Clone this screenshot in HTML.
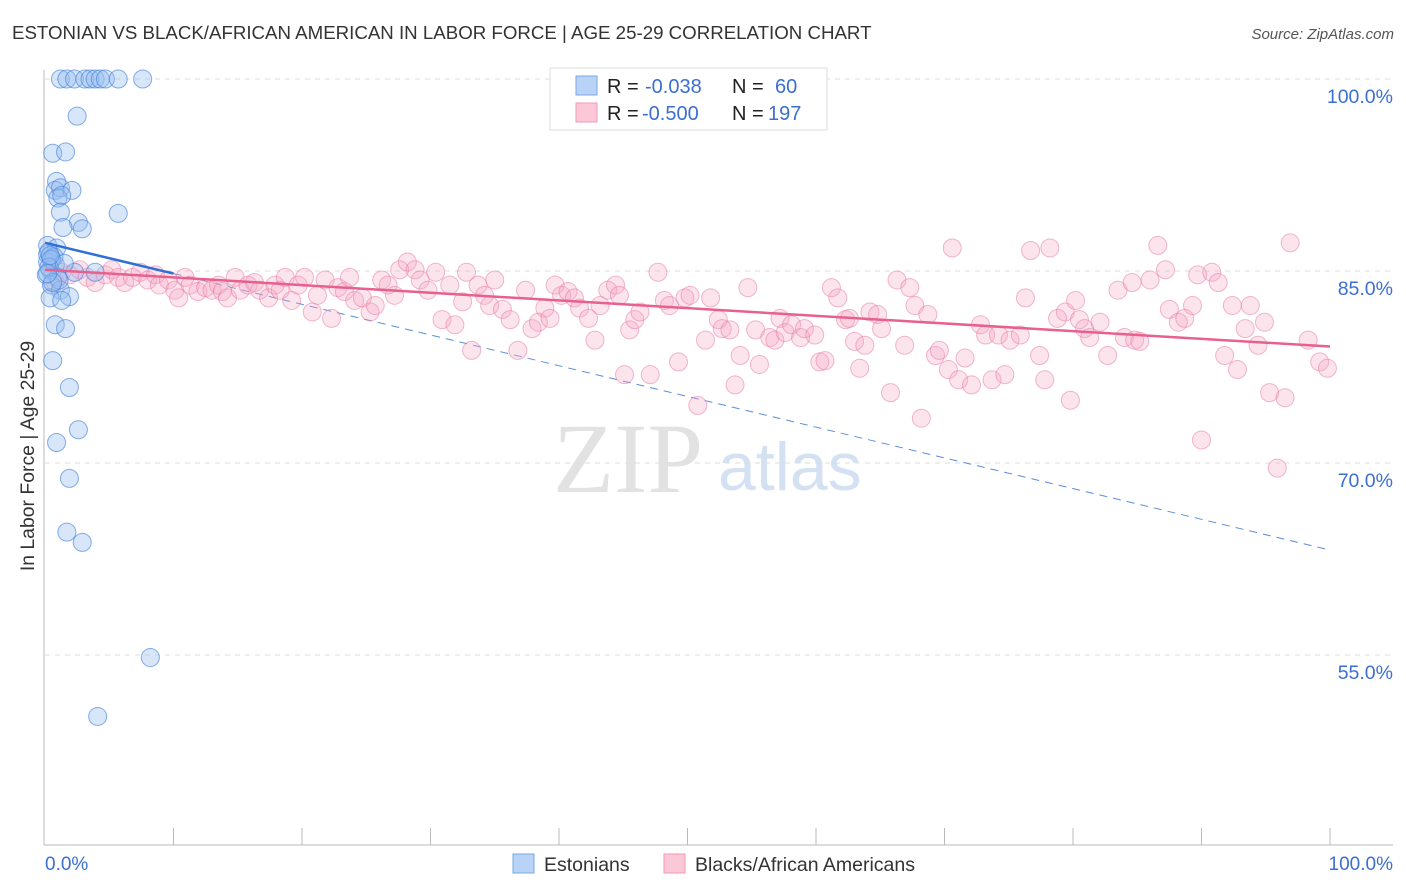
<!DOCTYPE html>
<html><head><meta charset="utf-8">
<style>
body{margin:0;background:#fff;font-family:"Liberation Sans",sans-serif;}
svg{display:block}
</style></head>
<body>
<svg id="chart" width="1406" height="892" xmlns="http://www.w3.org/2000/svg">
<text x="12" y="39" font-size="18.7" fill="#333">ESTONIAN VS BLACK/AFRICAN AMERICAN IN LABOR FORCE | AGE 25-29 CORRELATION CHART</text>
<text x="1394" y="39" font-size="15" fill="#555" font-style="italic" text-anchor="end">Source: ZipAtlas.com</text>
<g>
<text x="553" y="492" font-size="100" font-family="Liberation Serif,serif" fill="#e2e2e2">ZIP</text>
<text x="718" y="490" font-size="68" fill="#d4e1f3">atlas</text>
</g>
<g id="grid"></g>
<g id="axes"></g>
<g id="trends"></g>
<g id="pts"></g>
<g>
<rect x="550" y="68" width="277" height="62" fill="#fff" stroke="#ddd"/>
<rect x="576" y="76" width="21" height="19" fill="#b8d3f5" stroke="#7aa7e6"/>
<rect x="576" y="103" width="21" height="19" fill="#fcc8d8" stroke="#ef9ab6"/>
<text x="607" y="93" font-size="20" fill="#222">R = <tspan fill="#3b6fd1" x="645">-0.038</tspan><tspan x="732">N = </tspan><tspan fill="#3b6fd1" x="775">60</tspan></text>
<text x="607" y="120" font-size="20" fill="#222">R = <tspan fill="#3b6fd1" x="642">-0.500</tspan><tspan x="732">N = </tspan><tspan fill="#3b6fd1" x="768">197</tspan></text>
</g>
<g>
<rect x="513" y="854" width="21" height="19" fill="#b8d3f5" stroke="#7aa7e6"/>
<text x="544" y="871" font-size="19.5" fill="#333">Estonians</text>
<rect x="664" y="854" width="21" height="19" fill="#fcc8d8" stroke="#ef9ab6"/>
<text x="695" y="871" font-size="19.5" fill="#333">Blacks/African Americans</text>
</g>
<text x="34" y="456" font-size="19.4" fill="#333" text-anchor="middle" transform="rotate(-90 34 456)">In Labor Force | Age 25-29</text>
</svg>
<script>
const yTicks=[100,85,70,55];
const yTickLabels=["100.0%","85.0%","70.0%","55.0%"];
const xTickLabels=["0.0%","100.0%"];
const blueX=[1.2,1.7,2.3,3.1,3.5,3.9,4.3,4.7,5.7,7.6,2.5,0.6,1.6,0.9,0.8,1.2,2.1,1.0,1.3,1.2,5.7,2.6,2.9,1.4,0.2,0.9,0.2,0.5,0.2,0.8,0.4,0.1,1.0,0.5,1.2,1.9,0.4,1.3,0.8,1.6,0.6,1.9,2.6,0.9,1.9,1.7,2.9,8.2,4.1,2.3,3.9,0.3,0.7,0.5,1.1,0.3,0.6,0.2,1.5,0.4];
const blueY=[100,100,100,100,100,100,100,100,100,100,97.1,94.2,94.3,92.0,91.3,91.5,91.3,90.7,90.9,89.6,89.5,88.8,88.3,88.4,87.0,86.8,86.3,86.0,85.7,85.5,85.1,84.7,84.5,83.9,83.5,83.0,82.9,82.7,80.8,80.5,78.0,75.9,72.6,71.6,68.8,64.6,63.8,54.8,50.2,84.9,84.9,86.5,86.1,85.9,84.3,85.3,84.1,84.8,85.6,86.2];
const pinkX=[0.8,1.3,1.9,2.7,3.3,3.9,4.7,5.2,5.7,6.2,6.8,7.4,8.0,8.6,8.9,9.6,10.1,10.4,10.9,11.3,11.9,12.5,13.0,13.5,13.8,14.2,14.8,15.2,15.8,16.3,16.7,17.4,17.9,18.3,18.7,19.2,19.7,20.2,20.8,21.2,21.8,22.3,22.8,23.3,23.7,24.1,24.7,25.3,25.7,26.2,26.7,27.2,27.6,28.2,28.8,29.2,29.8,30.4,30.9,31.5,31.9,32.5,32.8,33.2,33.7,34.2,34.6,35.0,35.6,36.2,36.8,37.4,37.9,38.4,38.9,39.3,39.7,40.2,40.7,41.2,41.6,42.3,42.8,43.2,43.8,44.4,44.7,45.1,45.5,45.9,46.3,47.1,47.7,48.2,48.6,49.3,49.8,50.2,50.8,51.4,51.8,52.4,52.7,53.3,53.7,54.1,54.7,55.3,55.6,56.4,56.8,57.2,57.6,58.1,58.8,59.1,59.9,60.3,60.7,61.2,61.7,62.3,62.6,63.0,63.4,63.8,64.2,64.8,65.1,65.8,66.3,66.9,67.3,67.7,68.2,68.7,69.3,69.6,70.3,70.6,71.1,71.6,72.1,72.8,73.2,73.7,74.2,74.7,75.1,75.9,76.3,76.7,77.4,77.8,78.2,78.8,79.4,79.8,80.2,80.5,80.9,81.3,82.1,82.7,83.5,84.0,84.6,84.8,85.2,86.0,86.6,87.2,87.5,88.2,88.7,89.3,89.7,90.0,90.8,91.3,91.8,92.4,92.8,93.4,93.8,94.4,94.9,95.3,95.9,96.5,96.9,98.3,99.2,99.8];
const pinkY=[84.1,84.9,84.7,85.1,84.5,84.1,84.7,85.1,84.5,84.1,84.5,84.9,84.3,84.7,83.9,84.3,83.5,82.9,84.5,83.9,83.4,83.7,83.5,83.9,83.4,82.9,84.5,83.5,83.9,84.1,83.5,82.9,83.9,83.5,84.5,82.7,83.9,84.5,81.8,83.1,84.3,81.3,83.7,83.4,84.5,82.7,82.9,81.8,82.3,84.3,83.9,83.1,85.1,85.7,85.1,84.3,83.5,84.9,81.2,83.9,80.8,82.6,84.9,78.8,83.9,83.1,82.3,84.3,82.0,81.2,78.8,83.5,80.5,81.0,82.1,81.3,83.9,83.1,83.4,82.9,82.1,81.3,79.6,82.3,83.5,83.9,83.1,76.9,80.4,81.2,81.8,76.9,84.9,82.7,82.3,77.9,82.9,83.1,74.5,79.6,82.9,81.2,80.5,80.4,76.1,78.4,83.7,80.4,77.7,79.8,79.6,81.3,80.2,80.8,79.8,80.5,80.0,77.9,78.0,83.7,82.9,81.2,81.3,79.5,77.4,79.2,81.8,81.6,80.5,75.5,84.3,79.2,83.7,82.3,73.5,81.6,78.4,78.8,77.3,86.8,76.5,78.2,76.1,80.8,80.0,76.5,80.0,76.9,79.6,80.0,82.9,86.6,78.4,76.5,86.8,81.3,81.8,74.9,82.7,81.2,80.5,79.8,81.0,78.4,83.5,79.8,84.1,79.6,79.5,84.3,87.0,85.1,82.0,81.0,81.3,82.3,84.7,71.8,84.9,84.1,78.4,82.3,77.3,80.5,82.3,79.2,81.0,75.5,69.6,75.1,87.2,79.6,77.9,77.4];
const blueTrend=[87.2,-0.24];
const pinkTrend=[85.1,-0.06];

const NS="http://www.w3.org/2000/svg";
const X=v=>45+v*12.85;
const Y=v=>79+(100-v)*12.8;
function mk(tag,attrs,parent){const e=document.createElementNS(NS,tag);for(const k in attrs)e.setAttribute(k,attrs[k]);parent.appendChild(e);return e;}
const grid=document.getElementById('grid'),axes=document.getElementById('axes'),trends=document.getElementById('trends'),pts=document.getElementById('pts');
yTicks.forEach((t,i)=>{
  const l=mk('line',{x1:45,x2:1393,y1:Y(t),y2:Y(t),stroke:'#ddd','stroke-dasharray':'5,5'},grid);
  
  
  const tx=mk('text',{x:1393,y:Y(t)+24,'font-size':19.5,fill:'#3b6fd1','text-anchor':'end'},grid);
  tx.textContent=yTickLabels[i];
  
  
});
const ya=mk('line',{x1:44,x2:44,y1:70,y2:845,stroke:'#bbb'},axes);


const xa=mk('line',{x1:44,x2:1393,y1:845,y2:845,stroke:'#bbb'},axes);


for(let i=1;i<=10;i++){
  const tk=mk('line',{x1:X(i*10),x2:X(i*10),y1:828,y2:845,stroke:'#bbb'},axes);
  
  
}
const xl0=mk('text',{x:45,y:870,'font-size':19,fill:'#3b6fd1'},axes);
xl0.textContent=xTickLabels[0];


const xl1=mk('text',{x:1393,y:870,'font-size':19,fill:'#3b6fd1','text-anchor':'end'},axes);
xl1.textContent=xTickLabels[1];


const bt=v=>blueTrend[0]+blueTrend[1]*v, pt=v=>pinkTrend[0]+pinkTrend[1]*v;
const bd=mk('line',{x1:X(10),y1:Y(bt(10)),x2:X(100),y2:Y(bt(100)),stroke:'#5b8ed8','stroke-width':1,'stroke-dasharray':'8,6'},trends);


pinkX.forEach((x,i)=>{
  const c=mk('circle',{cx:X(x),cy:Y(pinkY[i]),r:9,fill:'rgba(246,165,195,0.3)',stroke:'rgba(232,125,165,0.55)','stroke-width':1},pts);
  
  
});
blueX.forEach((x,i)=>{
  const c=mk('circle',{cx:X(x),cy:Y(blueY[i]),r:9,fill:'rgba(150,190,240,0.38)',stroke:'rgba(70,130,220,0.65)','stroke-width':1},pts);
  
  
});
const pl=mk('line',{x1:X(0),y1:Y(pt(0)),x2:X(100),y2:Y(pt(100)),stroke:'#e8608e','stroke-width':2.5},pts);


const bl=mk('line',{x1:X(0),y1:Y(bt(0)),x2:X(10),y2:Y(bt(10)),stroke:'#2f6fd6','stroke-width':2.5},pts);


</script>
</body></html>
